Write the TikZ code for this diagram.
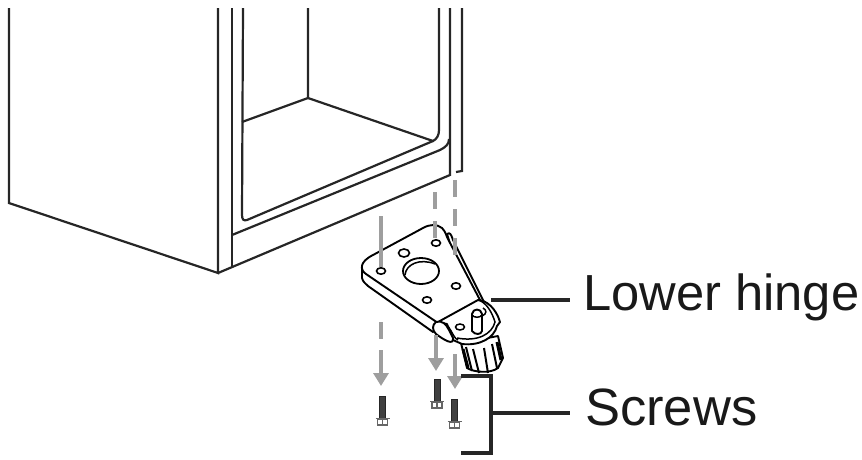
\documentclass[tikz,border=0pt]{standalone}
\usepackage{fontspec}
\setmainfont{Liberation Sans}
\usetikzlibrary{arrows.meta, positioning}
\tikzset{
  cab line/.style={draw=black!85, line width=2.2pt},
  hinge line/.style={draw=black, line width=1.9pt, fill=white, line join=round},
  guide line/.style={draw=black!38, line width=3.2pt},
  guide dash/.style={guide line, dash pattern=on 17pt off 12pt},
  guide arrow/.style={guide line, -{Triangle[length=13pt,width=15pt]}},
  leader/.style={draw=black!85, line width=3.2pt},
  call label/.style={anchor=west, inner sep=0pt, text=black!90},
  screw shaft/.style={draw=black!85, fill=black!75, line width=.8pt},
  screw head/.style={draw=black!60, fill=white, line width=1.1pt}
}
\newcommand{\screwat}[2]{%
  \draw [screw shaft] (#1-3,#2) rectangle (#1+3,#2+22);
  \draw [screw head] (#1-5,#2+23) rectangle (#1+5,#2+29);
  \draw [screw head] (#1-7,#2+22.5) -- (#1+7,#2+22.5);
  \draw [screw head] (#1,#2+23) -- (#1,#2+29);
}
\begin{document}
\begin{tikzpicture}[x=1pt, y=-1pt]
  \useasboundingbox (0,0) rectangle (862,459);
  % Cabinet
  \draw [cab line] (9,8) -- (9,203) -- (218,273) -- (218,8);
  \draw [cab line] (218,273) -- (450,175) -- (450,8);
  \draw [cab line] (232,268) -- (232,8);
  \draw [cab line] (232,235) -- (440,150) .. controls (446,147) and (449,144) .. (449,139);
  \draw [cab line] (243,8) -- (242,215) .. controls (242,220) and (244,221) .. (247,220) -- (433,141);
  \draw [cab line] (242,122) -- (308,98) -- (308,8);
  \draw [cab line] (308,98) -- (433,141) .. controls (437,139) and (439,135) .. (439,130) -- (439,8);
  \draw [cab line] (462,8) -- (462,171) -- (456,172);
  % Hinge plate
  \draw [hinge line] (447,234) .. controls (450,232) and (451,234) .. (453,240) -- (484,302) -- (470,308) -- cycle;
  \draw [hinge line] (362,268) -- (362,278) .. controls (363,282) and (365,283) .. (368,286) -- (433,332) -- (440,322) -- (400,280) -- cycle;
  \draw [hinge line] (373,255) -- (423,228) .. controls (430,224) and (437,224) .. (442,228)
    .. controls (446,232) and (446,236) .. (449,241) -- (480,300) -- (438,323) -- (366,274)
    .. controls (360,270) and (359,262) .. (373,255);
  \draw [line width=1.6pt, fill=white] (404,253) ellipse (5.5 and 4);
  \draw [line width=1.6pt, fill=white] (381,271) ellipse (4.5 and 3.2);
  \draw [line width=1.6pt, fill=white] (436,243) ellipse (4.5 and 3.2);
  \draw [line width=1.6pt, fill=white] (456,286) ellipse (4.5 and 3.2);
  \draw [line width=1.6pt, fill=white] (427,300) ellipse (4.5 and 3.2);
  \draw [line width=1.8pt, fill=white] (421,271) ellipse (18 and 13);
  \draw [line width=1.5pt] (405,275) .. controls (406,264) and (420,258) .. (435,264);
  % Adjuster foot
  \draw [hinge line] (461,343) -- (467,368) .. controls (473,372) and (490,374) .. (498,368)
    -- (503,358) -- (498,336) -- cycle;
  \foreach \fx/\fy/\gx/\gy in {466/347/472/371, 473/349/479/373, 484/348/488/373, 492/344/497/368}
    \draw [line width=2pt] (\fx,\fy) -- (\gx,\gy);
  \draw [line width=3pt] (463,349) -- (468,368);
  \draw [line width=3pt] (497,342) -- (501,360);
  % Bracket with pin
  \draw [hinge line] (438,322) -- (478,300) .. controls (486,300) and (496,308) .. (500,322)
    -- (497,326) .. controls (494,338) and (480,346) .. (462,344) -- (453,340) -- (447,324) -- cycle;
  \draw [line width=1.5pt] (440,323) .. controls (450,321) and (452,338) .. (458,340);
  \draw [line width=1.5pt] (478,300) .. controls (486,302) and (492,312) .. (495,322)
    .. controls (492,334) and (478,342) .. (457,338);
  \draw [hinge line] (436,322) .. controls (442,320) and (446,324) .. (449,330) -- (453,338)
    .. controls (454,346) and (444,340) .. (436,334) .. controls (432,330) and (432,325) .. (436,322);
  \draw [line width=1.5pt, fill=white] (460,327) ellipse (4.5 and 3);
  \draw [hinge line] (472,314) -- (472,331) .. controls (475,335) and (481,335) .. (482,331) -- (482,314)
    .. controls (481,308) and (473,308) .. (472,314) -- cycle;
  \draw [line width=1.5pt] (472,315) .. controls (474,318) and (480,318) .. (482,315);
  \draw [line width=1.5pt] (482,316) .. controls (487,314) and (487,310) .. (483,308);
  % Guide lines
  \draw [guide dash] (455,180) -- (455,265);
  \draw [guide dash] (435,192) -- (435,238);
  \draw [guide line] (381,216) -- (381,267);
  \draw [guide dash] (381,322) -- (381,340);
  \draw [guide arrow] (381,350) -- (381,386);
  \draw [guide arrow] (436,335) -- (436,371);
  \draw [guide arrow] (455,354) -- (455,389);
  % Screws
  \screwat{382.5}{396}
  \screwat{437}{379}
  \screwat{454.5}{399}
  % Labels
  \node (hingelabel) [call label, font=\fontsize{50.7}{50}\selectfont] at (583,297) {Lower hinge};
  \node (screwlabel) [call label, font=\fontsize{52.5}{50}\selectfont] at (585,407) {Screws};
  \coordinate (hingetip) at (491,300);
  \coordinate (bracktop) at (461,376);
  \coordinate (brackbot) at (461,453);
  \coordinate (brackmid) at (491,413);
  \draw [leader] (hingetip) -- (570,300);
  \draw [leader] (bracktop) -| (brackmid) |- (brackbot);
  \draw [leader] (brackmid) -- (570,413);
\end{tikzpicture}
\end{document}
